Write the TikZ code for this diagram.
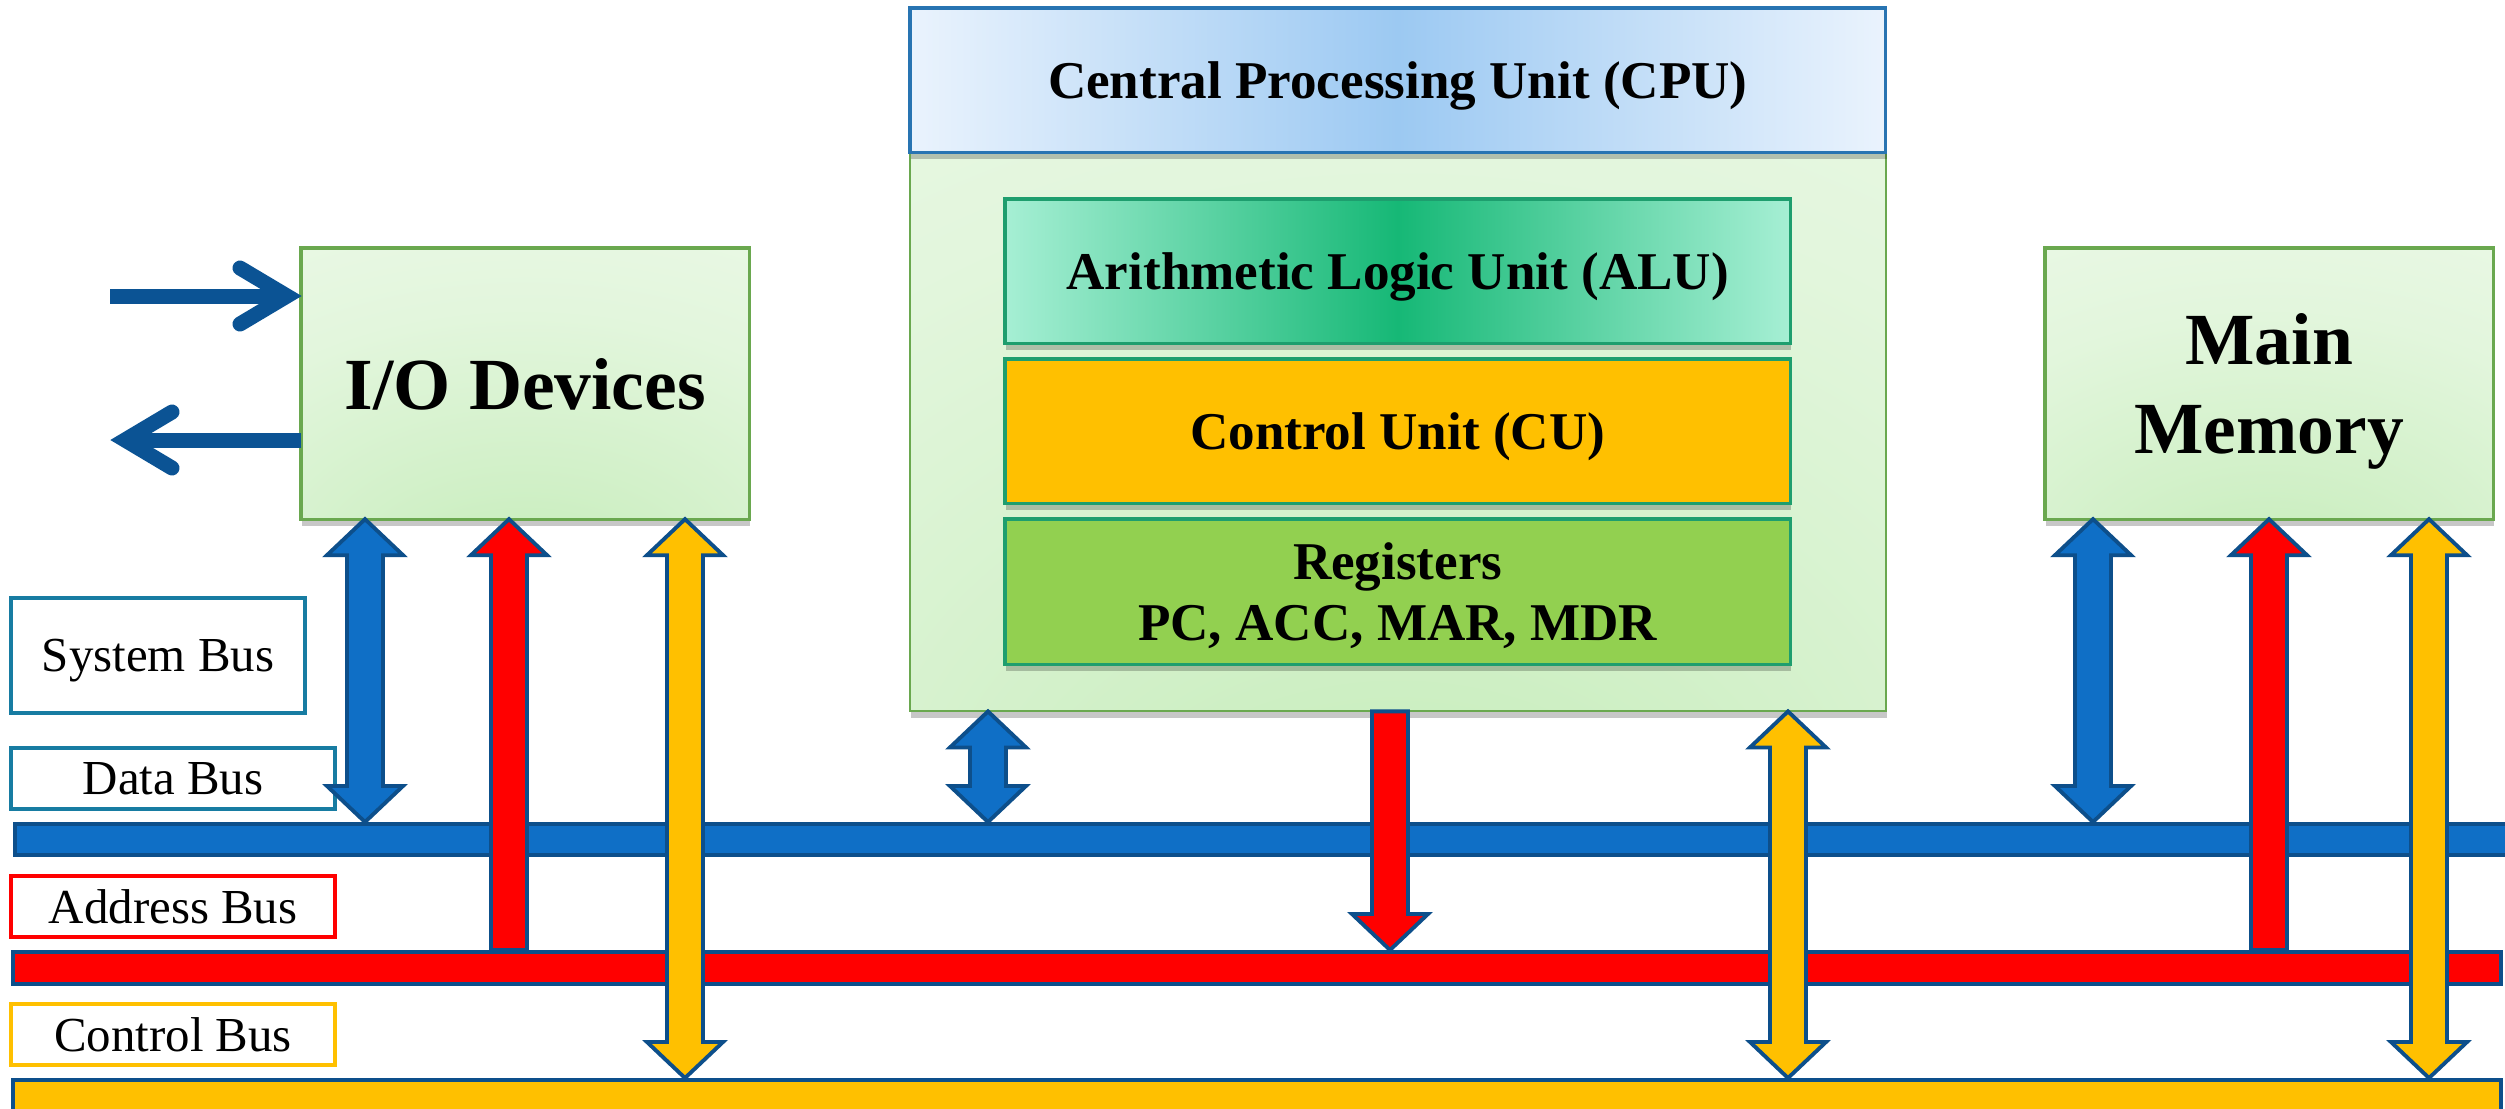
\documentclass[tikz,border=0pt]{standalone}
\usepackage{fontspec}
\setmainfont{Liberation Serif}
\usetikzlibrary{calc,shadows}

\definecolor{busborder}{HTML}{0D4F8B}
\definecolor{busblue}{HTML}{0F6FC6}
\definecolor{busred}{HTML}{FF0000}
\definecolor{busyellow}{HTML}{FFC000}
\definecolor{ioarrowcol}{HTML}{0B5394}
\definecolor{greenborder}{HTML}{6AA84F}
\definecolor{innerborder}{HTML}{1E9E6E}
\definecolor{hdrborder}{HTML}{2874B2}
\definecolor{lgedge}{HTML}{F2FBEF}
\definecolor{lgmid}{HTML}{BEEAB1}
\definecolor{hdredge}{HTML}{EAF3FD}
\definecolor{hdrmid}{HTML}{9CC9F2}
\definecolor{aluedge}{HTML}{A6EFD4}
\definecolor{alumid}{HTML}{16B876}
\definecolor{cufill}{HTML}{FFC000}
\definecolor{regfill}{HTML}{92D050}
\definecolor{labelteal}{HTML}{177CA2}

\pgfdeclareradialshading{lgradial}{\pgfpoint{0bp}{-45bp}}{%
  color(0bp)=(lgmid); color(18bp)=(lgmid!65!lgedge); color(40bp)=(lgmid!30!lgedge);
  color(65bp)=(lgmid!8!lgedge); color(100bp)=(lgedge)}

\def\aw{0.18cm}
\def\ah{0.38cm}
\def\al{0.36cm}

\newcommand\busArrUp[3]{%
  \draw[barrow, fill=#3] let \p1=(#1), \p2=(#2) in
   (\x1,\y1) -- (\x1+\ah,\y1-\al) -- (\x1+\aw,\y1-\al) -- (\x1+\aw,\y2)
   -- (\x1-\aw,\y2) -- (\x1-\aw,\y1-\al) -- (\x1-\ah,\y1-\al) -- cycle;}
\newcommand\busArrDown[3]{%
  \draw[barrow, fill=#3] let \p1=(#1), \p2=(#2) in
   (\x2,\y2) -- (\x2+\ah,\y2+\al) -- (\x2+\aw,\y2+\al) -- (\x2+\aw,\y1)
   -- (\x2-\aw,\y1) -- (\x2-\aw,\y2+\al) -- (\x2-\ah,\y2+\al) -- cycle;}
\newcommand\busArrBoth[3]{%
  \draw[barrow, fill=#3] let \p1=(#1), \p2=(#2) in
   (\x1,\y1) -- (\x1+\ah,\y1-\al) -- (\x1+\aw,\y1-\al) -- (\x1+\aw,\y2+\al)
   -- (\x1+\ah,\y2+\al) -- (\x1,\y2) -- (\x1-\ah,\y2+\al) -- (\x1-\aw,\y2+\al)
   -- (\x1-\aw,\y1-\al) -- (\x1-\ah,\y1-\al) -- cycle;}

\begin{document}
\begin{tikzpicture}[x=0.01cm, y=-0.01cm,
  softshadow/.style={drop shadow={shadow xshift=0.01cm, shadow yshift=-0.07cm, opacity=0.22, fill=black}},
  basebox/.style={anchor=north west, inner sep=0pt, outer sep=0pt, align=center, text depth=0pt},
  lgshade/.style={shade, shading=lgradial},
  cpubox/.style={basebox, draw=greenborder, line width=0.6pt, lgshade, softshadow},
  hdrbox/.style={basebox, draw=hdrborder, line width=0.9pt, left color=hdredge, right color=hdredge, middle color=hdrmid, softshadow,
     font=\fontsize{15.1}{17.4}\selectfont\bfseries},
  innerbox/.style={basebox, draw=innerborder, line width=0.9pt, softshadow,
     font=\fontsize{15.1}{17.4}\selectfont\bfseries, minimum width=7.85cm},
  devbox/.style={basebox, draw=greenborder, line width=0.9pt, lgshade, softshadow,
     minimum width=4.48cm, minimum height=2.71cm},
  buslabel/.style={basebox, fill=white, line width=1.1pt, font=\fontsize{13.9}{16}\selectfont},
  busbar/.style={draw=busborder, line width=1.3pt},
  barrow/.style={draw=busborder, line width=1.1pt, line join=miter},
  ioarr/.style={draw=ioarrowcol, line width=4.27pt}
]
\useasboundingbox (0,0) rectangle (2505,1108);
\clip (0,0) rectangle (2505,1108);
\fill[white] (0,0) rectangle (2505,1108);

% ---- CPU ----
\node[cpubox, minimum width=9.75cm, minimum height=7.03cm] (cpu) at (910,8) {};
\node[hdrbox, minimum width=9.75cm, minimum height=1.44cm] (hdr) at (910,8) {Central Processing Unit (CPU)};
\node[innerbox, minimum height=1.44cm, left color=aluedge, right color=aluedge, middle color=alumid] (alu) at (1005,199) {Arithmetic Logic Unit (ALU)};
\node[innerbox, minimum height=1.44cm, fill=cufill] (cu) at (1005,359) {Control Unit (CU)};
\node[innerbox, minimum height=1.45cm, fill=regfill] (reg) at (1005,519) {Registers\\PC, ACC, MAR, MDR};

% ---- I/O and memory ----
\node[devbox, font=\fontsize{20.9}{24}\selectfont\bfseries] (io) at (301,248) {I/O Devices};
\node[devbox, font=\fontsize{20.9}{25.3}\selectfont\bfseries] (mm) at (2045,248) {Main\\Memory};

% ---- bus labels ----
\node[buslabel, draw=labelteal, minimum width=2.94cm, minimum height=1.15cm] (sysl) at (11,598) {System Bus};
\node[buslabel, draw=labelteal, minimum width=3.24cm, minimum height=0.61cm] (datal) at (11,748) {Data Bus};
\node[buslabel, draw=busred, minimum width=3.24cm, minimum height=0.61cm] (addrl) at (11,876) {Address Bus};
\node[buslabel, draw=busyellow, minimum width=3.24cm, minimum height=0.61cm] (ctrll) at (11,1004) {Control Bus};

% ---- bus bars ----
\draw[busbar, fill=busblue] (15,824) rectangle (2520,855);
\draw[busbar, fill=busred] (13,952) rectangle (2501,984);
\draw[busbar, fill=busyellow] (13,1080) rectangle (2501,1130);
\coordinate (dtop) at (0,822);
\coordinate (atop) at (0,950);
\coordinate (ctop) at (0,1078);

% ---- connection points ----
\coordinate (io1) at ($(io.south west)+(64,0)$);
\coordinate (io2) at ($(io.south west)+(208,0)$);
\coordinate (io3) at ($(io.south west)+(384,0)$);
\coordinate (cpu1) at ($(cpu.south west)+(78,0)$);
\coordinate (cpu2) at ($(cpu.south west)+(480,0)$);
\coordinate (cpu3) at ($(cpu.south west)+(878,0)$);
\coordinate (mm1) at ($(mm.south west)+(48,0)$);
\coordinate (mm2) at ($(mm.south west)+(224,0)$);
\coordinate (mm3) at ($(mm.south west)+(384,0)$);

% ---- vertical bus arrows ----
\busArrBoth{io1}{io1 |- dtop}{busblue}
\busArrUp{io2}{io2 |- atop}{busred}
\busArrBoth{io3}{io3 |- ctop}{busyellow}
\busArrBoth{cpu1}{cpu1 |- dtop}{busblue}
\busArrDown{cpu2}{cpu2 |- atop}{busred}
\busArrBoth{cpu3}{cpu3 |- ctop}{busyellow}
\busArrBoth{mm1}{mm1 |- dtop}{busblue}
\busArrUp{mm2}{mm2 |- atop}{busred}
\busArrBoth{mm3}{mm3 |- ctop}{busyellow}

% ---- I/O external arrows ----
\coordinate (inS) at (110,296);
\coordinate (inV) at ($(io.west |- inS)+(-14,0)$);
\draw[ioarr] (inS) -- (inV);
\draw[ioarr, line cap=round, line join=miter] ($(inV)+(-47,-28)$) -- (inV) -- ($(inV)+(-47,28)$);
\coordinate (outS) at (io.west |- 0,440);
\coordinate (outV) at (125,440);
\draw[ioarr] (outS) -- (outV);
\draw[ioarr, line cap=round, line join=miter] ($(outV)+(47,-28)$) -- (outV) -- ($(outV)+(47,28)$);
\end{tikzpicture}
\end{document}
